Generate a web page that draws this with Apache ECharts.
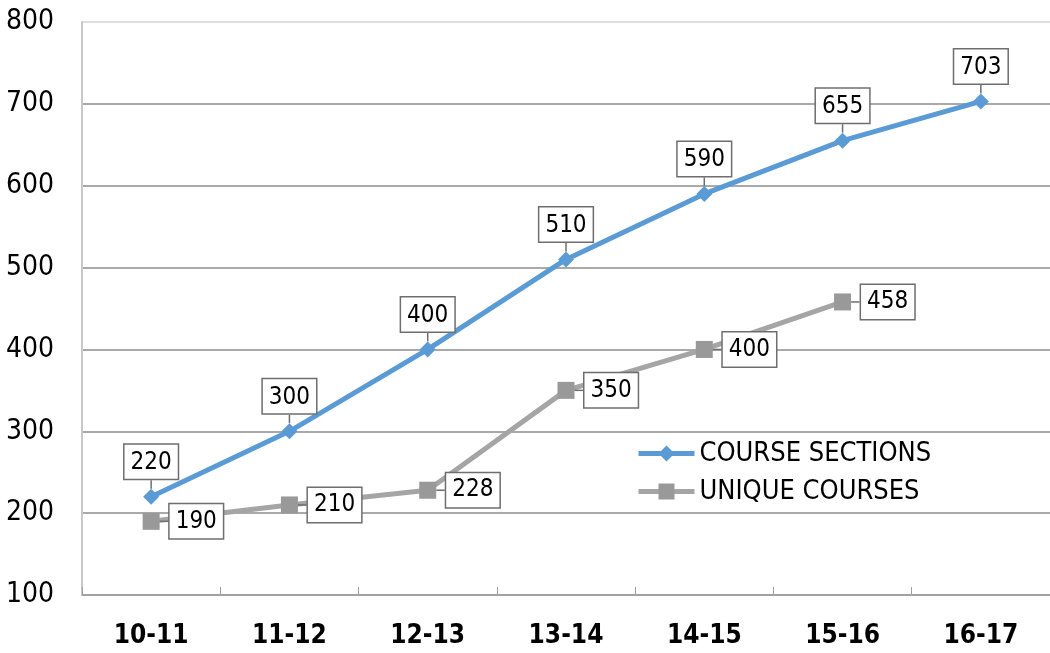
<!DOCTYPE html>
<html><head><meta charset="utf-8">
<script src="https://cdn.jsdelivr.net/npm/echarts@6/dist/echarts.min.js"></script>
<style>html,body{margin:0;padding:0;background:#fff}#c{width:1050px;height:653px}</style>
</head><body><div id="c"></div>
<script>
const categories = ['10-11','11-12','12-13','13-14','14-15','15-16','16-17'];
const courseSections = [220,300,400,510,590,655,703];
const uniqueCourses = [190,210,228,350,400,458,null];
const seriesNames = ['COURSE SECTIONS','UNIQUE COURSES'];
const FONT = '"Liberation Sans Narrow","DejaVu Sans Condensed","Roboto Condensed","Open Sans",sans-serif';
const NW = 'condensed';

const chart = echarts.init(document.getElementById('c'));
const boxLabel = (pos, dist) => ({
  show: true, position: pos, distance: dist,
  fontFamily: FONT, fontSize: 24, fontWeight: NW, color: '#000',
  backgroundColor: '#fff', borderColor: '#6e6e6e', borderWidth: 1.5,
  padding: [6, 6, 4, 6]
});
const splitColors = ['#8c8c8c','#8c8c8c','#8c8c8c','#8c8c8c','#8c8c8c','#8c8c8c','#8c8c8c','#d4d4d4'];
chart.setOption({
  animation: false,
  grid: {left: 82, width: 978, top: 22, bottom: 58},
  legend: {
    orient: 'vertical', left: 636, top: 440, itemGap: 11, padding: 0,
    itemWidth: 56, itemHeight: 20,
    lineStyle: {width: 5},
    textStyle: {fontFamily: FONT, fontSize: 27, fontWeight: NW, color: '#000'},
    data: seriesNames
  },
  xAxis: {
    type: 'category', data: categories, boundaryGap: true,
    axisLine: {lineStyle: {color: '#a0a0a0', width: 1.5}},
    axisTick: {show: true, inside: true, length: 8, lineStyle: {color: '#a0a0a0'}},
    axisLabel: {fontFamily: FONT, fontSize: 26, fontWeight: 'bold ' + NW, color: '#000', margin: 28}
  },
  yAxis: {
    type: 'value', min: 100, max: 800, interval: 100,
    axisLine: {show: true, lineStyle: {color: '#c8c8c8', width: 2}},
    axisTick: {show: false},
    axisLabel: {fontFamily: FONT, fontSize: 28, fontWeight: NW, color: '#000', margin: 28},
    splitLine: {lineStyle: {color: splitColors, width: 1.5}}
  },
  series: [
    {
      name: seriesNames[0], type: 'line', data: courseSections,
      symbol: 'diamond', symbolSize: 16,
      lineStyle: {color: '#5B9BD5', width: 5},
      itemStyle: {color: '#5B9BD5'},
      label: boxLabel('top', 0),
      labelLine: {show: true, lineStyle: {color: '#6e6e6e', width: 1.5}},
      labelLayout: {dy: -10},
      z: 3
    },
    {
      name: seriesNames[1], type: 'line', data: uniqueCourses,
      symbol: 'rect', symbolSize: 17,
      lineStyle: {color: '#A5A5A5', width: 5},
      itemStyle: {color: '#999999'},
      label: boxLabel('right', 0),
      labelLine: {show: true, lineStyle: {color: '#6e6e6e', width: 1.5}},
      labelLayout: {dx: 10},
      z: 2
    }
  ]
});
</script></body></html>
